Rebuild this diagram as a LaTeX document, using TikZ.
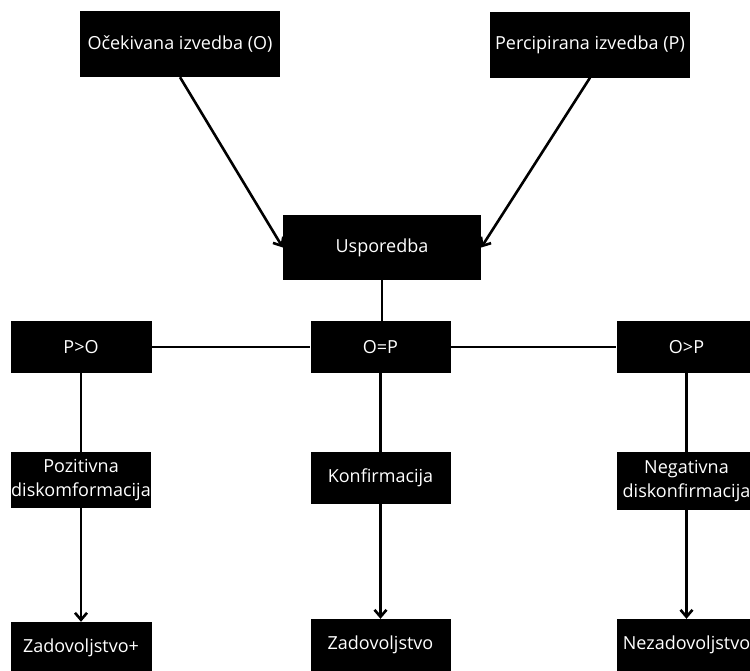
\documentclass[tikz,border=0pt]{standalone}
\usepackage{fontspec}
\setmainfont{Open Sans}
\usetikzlibrary{arrows.meta}
\begin{document}
\begin{tikzpicture}[x=1pt,y=-1pt,
  box/.style={fill=black, draw=none, text=white, inner sep=0pt, align=center,
    font=\fontsize{18}{24}\selectfont},
  conn/.style={line width=2.6pt, black},
  arr/.style={conn, -{Straight Barb[length=7pt,width=12pt,line width=2.6pt]}}]
\clip (0,0) rectangle (750,670);
\fill[white] (0,0) rectangle (750,670);
% top row
\node[box, minimum width=200pt, minimum height=66pt] (O) at (180,44) {Očekivana izvedba (O)};
\node[box, minimum width=200pt, minimum height=66pt] (P) at (590,44.5) {Percipirana izvedba (P)};
\node[box, minimum width=198pt, minimum height=65pt] (U) at (382,247.5) {Usporedba};
% second row
\node[box, minimum width=141pt, minimum height=52pt] (PO) at (81,347) {P>O};
\node[box, minimum width=140pt, minimum height=52pt] (OeP) at (380.5,347) {O=P};
\node[box, minimum width=140pt, minimum height=52pt] (OP) at (686.5,347) {O>P};
% third row
\node[box, minimum width=140pt, minimum height=56pt] (Poz) at (81,480) {Pozitivna\\diskomformacija};
\node[box, minimum width=140pt, minimum height=52pt] (Konf) at (380.5,478) {Konfirmacija};
\node[box, minimum width=140pt, minimum height=58pt] (Neg) at (686.5,481) {Negativna\\diskonfirmacija};
% fourth row
\node[box, minimum width=141pt, minimum height=52pt] (Zp) at (81,648) {Zadovoljstvo+};
\node[box, minimum width=140pt, minimum height=52pt] (Z) at (380.5,645) {Zadovoljstvo};
\node[box, minimum width=140pt, minimum height=52pt] (Nez) at (686.5,645) {Nezadovoljstvo};
% connectors
\draw[arr] (O.south) -- (U.west);
\draw[arr] (P.south) -- (U.east);
\draw[conn] (U.south) -- (U.south |- OeP.north);
\draw[conn] (PO.east) -- (OeP.west);
\draw[conn] (OeP.east) -- (OP.west);
\draw[conn] (PO.south) -- (Poz.north);
\draw[conn] (OeP.south) -- (Konf.north);
\draw[conn] (OP.south) -- (Neg.north);
\draw[arr] (Poz.south) -- (Zp.north);
\draw[arr] (Konf.south) -- (Z.north);
\draw[arr] (Neg.south) -- (Nez.north);
\end{tikzpicture}
\end{document}
